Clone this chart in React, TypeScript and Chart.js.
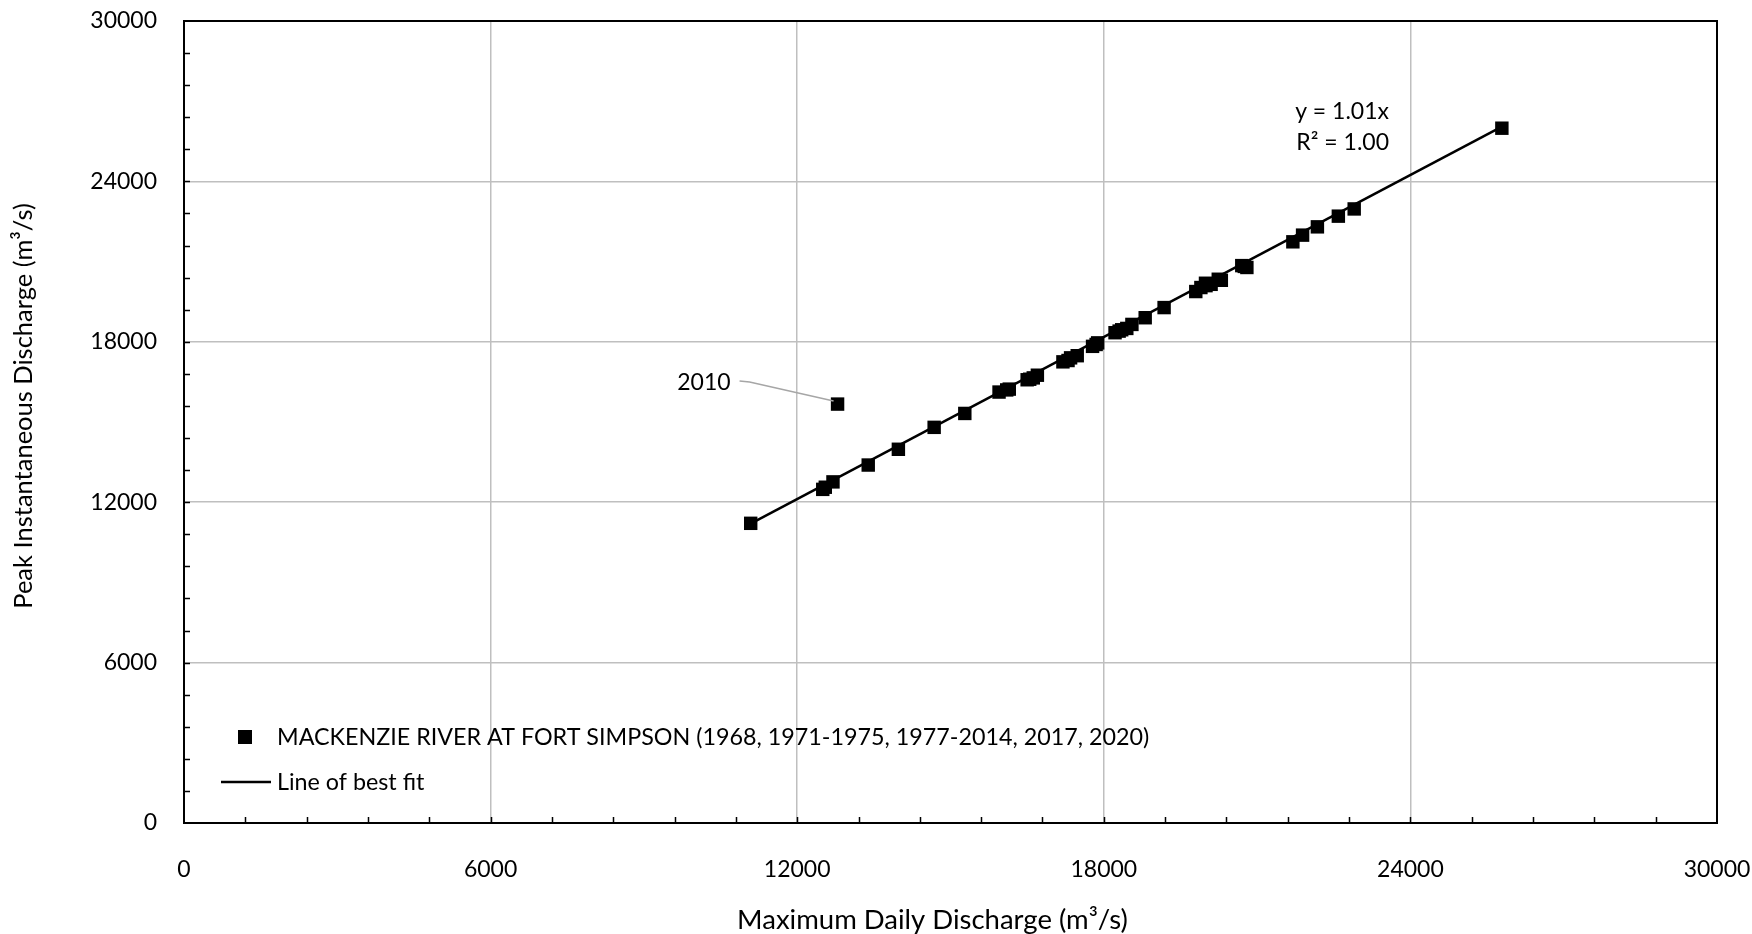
import React, { useEffect, useRef } from 'react';
import { Chart, registerables } from 'chart.js';

Chart.register(...registerables);

// Maximum daily discharge (m³/s) — x values
const maxDailyDischarge = [
  11090, 12500, 12550, 12700, 12790, 13390, 13980, 14680, 15280, 15950,
  16100, 16150, 16500, 16550, 16620, 16700, 17200, 17300, 17350, 17480,
  17780, 17850, 17880, 18220, 18300, 18350, 18450, 18550, 18810, 19180,
  19800, 19900, 19990, 20000, 20100, 20240, 20300, 20700, 20750, 20800,
  21700, 21890, 22180, 22590, 22900, 25790,
];
// Peak instantaneous discharge (m³/s) — y values
const peakInstantaneousDischarge = [
  11210, 12480, 12560, 12760, 15670, 13390, 13980, 14800, 15320, 16120,
  16200, 16230, 16580, 16600, 16650, 16750, 17250, 17300, 17400, 17480,
  17830, 17900, 17960, 18340, 18400, 18450, 18500, 18650, 18900, 19280,
  19880, 20030, 20190, 20100, 20150, 20340, 20300, 20850, 20820, 20780,
  21740, 21990, 22300, 22700, 22970, 25990,
];
const annotatedIndex = 4;
const annotatedLabel = '2010';

// Line of best fit end points
const fitX = [11090, 25790];
const fitY = [11200, 26050];

const equationLines = ['y = 1.01x', 'R² = 1.00'];
const seriesLabel = 'MACKENZIE RIVER AT FORT SIMPSON (1968, 1971-1975, 1977-2014, 2017, 2020)';
const fitLabel = 'Line of best fit';
const xTitle = 'Maximum Daily Discharge (m³/s)';
const yTitle = 'Peak Instantaneous Discharge (m³/s)';
const axisMin = 0;
const axisMax = 30000;
const majorStep = 6000;
const minorStep = 1200;

const FONT = 'Lato';

const decorPlugin = {
  id: 'decor',
  afterDraw(chart: any) {
    const { ctx, chartArea } = chart;
    const xs = chart.scales.x;
    const ys = chart.scales.y;
    const { left, right, top, bottom } = chartArea;
    ctx.save();
    // minor ticks (inward)
    ctx.strokeStyle = '#000';
    ctx.lineWidth = 1.5;
    ctx.beginPath();
    for (let v = axisMin + minorStep; v < axisMax; v += minorStep) {
      const px = Math.round(xs.getPixelForValue(v)) + 0.5;
      ctx.moveTo(px, bottom);
      ctx.lineTo(px, bottom - 6);
      const py = Math.round(ys.getPixelForValue(v)) + 0.5;
      ctx.moveTo(left, py);
      ctx.lineTo(left + 6, py);
    }
    ctx.stroke();
    // frame
    ctx.lineWidth = 2;
    ctx.strokeRect(left, top, right - left, bottom - top);

    // 2010 annotation
    const ax = xs.getPixelForValue(maxDailyDischarge[annotatedIndex]);
    const ay = ys.getPixelForValue(peakInstantaneousDischarge[annotatedIndex]);
    ctx.strokeStyle = '#a6a6a6';
    ctx.lineWidth = 1.5;
    ctx.beginPath();
    ctx.moveTo(ax - 98, ay - 23);
    ctx.lineTo(ax - 88, ay - 22);
    ctx.lineTo(ax - 4, ay - 3);
    ctx.stroke();
    ctx.fillStyle = '#000';
    ctx.font = `23px ${FONT}`;
    ctx.textAlign = 'right';
    ctx.textBaseline = 'middle';
    ctx.fillText(annotatedLabel, ax - 107, ay - 22);

    // equation
    ctx.textAlign = 'right';
    ctx.fillText(equationLines[0], left + 1205, top + 91);
    ctx.fillText(equationLines[1], left + 1205, top + 122);

    // legend
    ctx.font = `23.3px ${FONT}`;
    ctx.textAlign = 'left';
    ctx.fillRect(left + 54, bottom - 93, 14, 14);
    ctx.fillText(seriesLabel, left + 93, bottom - 86);
    ctx.strokeStyle = '#000';
    ctx.lineWidth = 2.5;
    ctx.beginPath();
    ctx.moveTo(left + 37, bottom - 41);
    ctx.lineTo(left + 87, bottom - 41);
    ctx.stroke();
    ctx.fillText(fitLabel, left + 93, bottom - 41);

    // axis titles
    ctx.textAlign = 'center';
    ctx.font = `27.5px ${FONT}`;
    ctx.fillText(xTitle, (left + right) / 2 - 18, chart.height - 14);
    ctx.save();
    ctx.translate(23.5, (top + bottom) / 2 - 16);
    ctx.rotate(-Math.PI / 2);
    ctx.font = `25.5px ${FONT}`;
    ctx.fillText(yTitle, 0, 0);
    ctx.restore();
    ctx.restore();
  },
};

export default function App() {
  const canvasRef = useRef<HTMLCanvasElement | null>(null);

  useEffect(() => {
    document.body.style.margin = '0';
    const canvas = canvasRef.current;
    if (!canvas) return;
    Chart.defaults.font.family = FONT;
    const points = maxDailyDischarge.map((x, i) => ({ x, y: peakInstantaneousDischarge[i] }));
    const fit = fitX.map((x, i) => ({ x, y: fitY[i] }));
    const plain = (v: any) => String(v);
    const chart = new Chart(canvas, {
      type: 'scatter',
      data: {
        datasets: [
          {
            label: seriesLabel,
            data: points,
            pointStyle: 'rect',
            pointRadius: 9.5,
            pointBorderWidth: 0,
            backgroundColor: '#000',
            borderColor: '#000',
          },
          {
            label: fitLabel,
            data: fit,
            showLine: true,
            pointRadius: 0,
            borderColor: '#000',
            borderWidth: 2.5,
          },
        ],
      },
      options: {
        animation: false,
        responsive: true,
        maintainAspectRatio: false,
        layout: { padding: { left: 0, top: 21, right: 35, bottom: 0 } },
        plugins: {
          legend: { display: false },
          tooltip: { enabled: false },
        },
        scales: {
          x: {
            type: 'linear',
            min: axisMin,
            max: axisMax,
            ticks: { stepSize: majorStep, color: '#000', font: { size: 23, family: FONT }, padding: 33, callback: plain },
            grid: { color: '#bfbfbf', lineWidth: 1.5, drawTicks: false },
            border: { display: true, color: '#000', width: 2 },
            title: { display: false, text: xTitle },
            afterFit(scale: any) {
              scale.height = 111;
              scale.paddingLeft = 0;
              scale.paddingRight = 0;
            },
          },
          y: {
            type: 'linear',
            min: axisMin,
            max: axisMax,
            ticks: { stepSize: majorStep, color: '#000', font: { size: 23, family: FONT }, padding: 27, callback: plain },
            grid: { color: '#bfbfbf', lineWidth: 1.5, drawTicks: false },
            border: { display: true, color: '#000', width: 2 },
            title: { display: false, text: yTitle },
            afterFit(scale: any) {
              scale.width = 184;
              scale.paddingTop = 0;
              scale.paddingBottom = 0;
            },
          },
        },
      },
      plugins: [decorPlugin],
    });
    return () => chart.destroy();
  }, []);

  return (
    <div style={{ position: 'relative', width: 1752, height: 934 }}>
      <canvas ref={canvasRef} />
    </div>
  );
}
